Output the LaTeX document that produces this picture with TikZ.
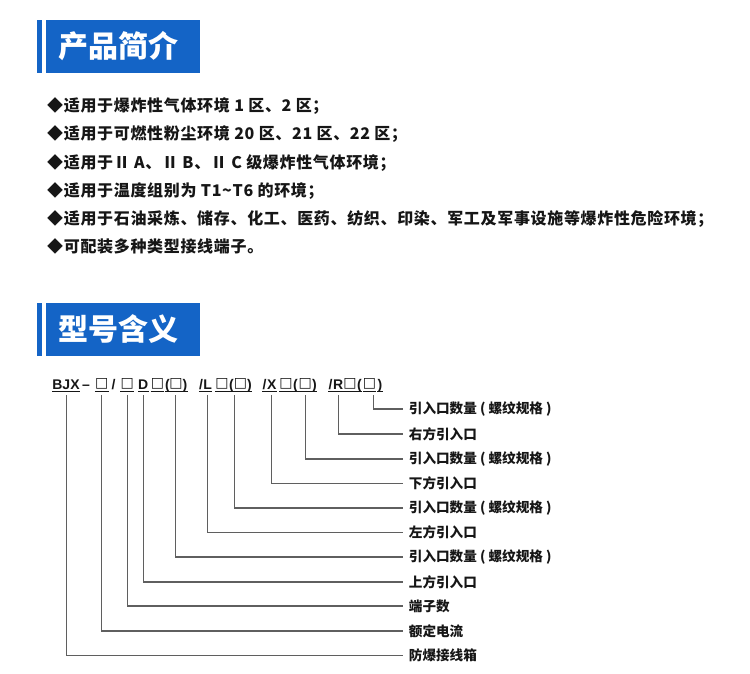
\documentclass[tikz,border=0pt]{standalone}
\usepackage{fontspec}
\newfontfamily\cjk{Noto Sans CJK SC}
\newfontfamily\cjkw{Noto Sans CJK SC}[LetterSpace=4.2]
\newfontfamily\codefont{Liberation Sans}
\newfontfamily\boxfont{DejaVu Sans}
\definecolor{hdrblue}{RGB}{20,100,198}
\definecolor{lineg}{RGB}{95,95,95}
\definecolor{txt}{RGB}{22,22,22}
\begin{document}
\begin{tikzpicture}[x=1pt,y=-1pt,
  hdrbar/.style={fill=hdrblue},
  hdrtext/.style={text=white,font=\cjk\bfseries\fontsize{30}{32}\selectfont,inner sep=0pt},
  bul/.style={anchor=base west,inner sep=0pt,text=txt,font=\cjkw\bfseries\fontsize{16}{18}\selectfont},
  lab/.style={anchor=west,inner xsep=6pt,inner ysep=0pt,text=txt,font=\cjk\bfseries\fontsize{13.6}{16}\selectfont},
  tok/.style={anchor=base,inner sep=0pt,text=txt,font=\codefont\bfseries\fontsize{14}{16}\selectfont},
  uline/.style={draw=txt,line width=0.8pt},
  conn/.style={draw=lineg,line width=1.2pt}]
\useasboundingbox (0,0) rectangle (750,673);
\fill[white] (0,0) rectangle (750,673);

% headers
\fill[hdrbar] (37,20) rectangle (42,73);
\fill[hdrbar] (46,20) rectangle (200,73);
\node[hdrtext] (h1) at (118,46.5) {产品简介};
\fill[hdrbar] (37,303) rectangle (42,356);
\fill[hdrbar] (46,303) rectangle (200,356);
\node[hdrtext] (h2) at (118,329.5) {型号含义};

% bullet list
\node[bul] (b1) at (47,111) {◆适用于爆炸性气体环境 1 区、2 区；};
\node[bul] (b2) at (47,139) {◆适用于可燃性粉尘环境 20 区、21 区、22 区；};
\node[bul] (b3) at (47,168) {◆适用于Ⅱ A、Ⅱ B、Ⅱ C 级爆炸性气体环境；};
\node[bul] (b4) at (47,196) {◆适用于温度组别为 T1\textasciitilde T6 的环境；};
\node[bul] (b5) at (47,224) {◆适用于石油采炼、储存、化工、医药、纺织、印染、军工及军事设施等爆炸性危险环境；};
\node[bul] (b6) at (47,252) {◆可配装多种类型接线端子。};

% model code tokens
\newcommand\tokn[4]{\node[tok] (#1) at (#2,389) {#3};
  \ifnum#4=1 \draw[uline] ([yshift=-2.6pt]#1.base west) -- ([yshift=-2.6pt]#1.base east);\fi}
\newcommand\bx{\raisebox{1.6pt}{\boxfont\fontsize{14}{16}\selectfont □}}
\tokn{tBJX}{66}{BJX}{1}
\tokn{tdash}{86}{–}{0}
\tokn{tq1}{101.7}{\bx}{1}
\tokn{ts1}{113.5}{/}{0}
\tokn{tq2}{127.3}{\bx}{1}
\tokn{tD}{143.3}{D}{1}
\tokn{tq3}{157.5}{\bx}{1}
\tokn{to1}{167.5}{(}{1}
\tokn{tq4}{176}{\bx}{1}
\tokn{tc1}{185}{)}{1}
\tokn{ts2}{201}{/}{1}
\tokn{tL}{207.7}{L}{1}
\tokn{tq5}{222}{\bx}{1}
\tokn{to2}{231.5}{(}{1}
\tokn{tq6}{240.5}{\bx}{1}
\tokn{tc2}{249.5}{)}{1}
\tokn{ts3}{264.5}{/}{1}
\tokn{tX}{271.7}{X}{1}
\tokn{tq7}{286}{\bx}{1}
\tokn{to3}{295.5}{(}{1}
\tokn{tq8}{305.3}{\bx}{1}
\tokn{tc3}{314.5}{)}{1}
\tokn{ts4}{330.5}{/}{1}
\tokn{tR}{338.3}{R}{1}
\tokn{tq9}{350}{\bx}{1}
\tokn{to4}{359.5}{(}{1}
\tokn{tq10}{369.5}{\bx}{1}
\tokn{tc4}{380}{)}{1}

% connector tops
\coordinate (v1) at (373.3,395);
\coordinate (v2) at (338.3,395);
\coordinate (v3) at (305.3,395);
\coordinate (v4) at (271.7,395);
\coordinate (v5) at (234.3,395);
\coordinate (v6) at (207.7,395);
\coordinate (v7) at (175.7,395);
\coordinate (v8) at (143.3,395);
\coordinate (v9) at (127.3,395);
\coordinate (v10) at (101.7,395);
\coordinate (v11) at (66.7,395);

% labels
\node[lab] (l1) at (402.7,409) {引入口数量 ( 螺纹规格 )};
\node[lab] (l2) at (402.7,434) {右方引入口};
\node[lab] (l3) at (402.7,459) {引入口数量 ( 螺纹规格 )};
\node[lab] (l4) at (402.7,483.5) {下方引入口};
\node[lab] (l5) at (402.7,508) {引入口数量 ( 螺纹规格 )};
\node[lab] (l6) at (402.7,532.5) {左方引入口};
\node[lab] (l7) at (402.7,557) {引入口数量 ( 螺纹规格 )};
\node[lab] (l8) at (402.7,582) {上方引入口};
\node[lab] (l9) at (402.7,606) {端子数};
\node[lab] (l10) at (402.7,631) {额定电流};
\node[lab] (l11) at (402.7,655.5) {防爆接线箱};

\foreach \i in {1,...,11}{\draw[conn] (v\i) |- (l\i.west);}
\end{tikzpicture}
\end{document}
